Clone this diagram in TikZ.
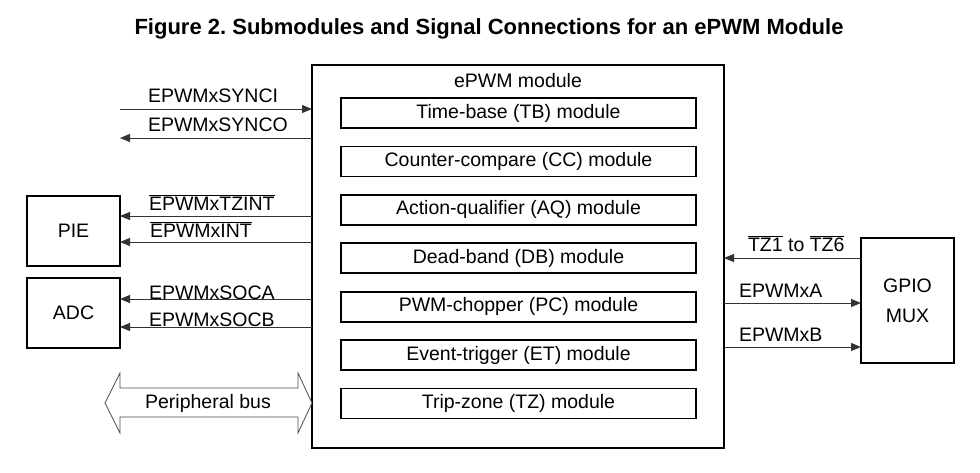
\documentclass[tikz,border=0pt]{standalone}
\usepackage{fontspec}
\setmainfont{Liberation Sans}
\usetikzlibrary{arrows.meta}
\frenchspacing
\newcommand{\ovl}[1]{$\overline{\hbox{#1}}$}
\begin{document}
\begin{tikzpicture}[x=1pt,y=-1pt,
  every node/.style={font=\fontsize{19.5}{30}\selectfont, inner sep=0pt, outer sep=0pt},
  bigbox/.style={draw=black, line width=2.4pt, align=center},
  modbox/.style={draw=black, line width=1.8pt, minimum width=355pt, minimum height=30pt},
  sig/.style={draw=black!80, line width=1pt},
  sigarrow/.style={sig, -{Triangle[length=10pt,width=8pt]}},
  lbl/.style={anchor=base west},
  bus/.style={draw=black!70, line width=0.8pt, fill=white}
]
\useasboundingbox (0,0) rectangle (980,472);
% title
\node[font=\fontsize{22}{26}\selectfont\bfseries] (title) at (489,29) {Figure 2. Submodules and Signal Connections for an ePWM Module};
% main box
\node[bigbox, minimum width=412pt, minimum height=383pt] (main) at (518,256.5) {};
\node[anchor=base] (mtitle) at (518,87) {ePWM module};
\node[modbox] (tb) at (518.5,113) {Time-base (TB) module};
\node[modbox] (cc) at (518.5,161.4) {Counter-compare (CC) module};
\node[modbox] (aq) at (518.5,209.8) {Action-qualifier (AQ) module};
\node[modbox] (db) at (518.5,258.2) {Dead-band (DB) module};
\node[modbox] (pc) at (518.5,306.6) {PWM-chopper (PC) module};
\node[modbox] (et) at (518.5,355) {Event-trigger (ET) module};
\node[modbox] (tz) at (518.5,403.4) {Trip-zone (TZ) module};
% side boxes
\node[bigbox, minimum width=93pt, minimum height=70pt] (pie) at (73.5,231) {PIE};
\node[bigbox, minimum width=93pt, minimum height=70pt] (adc) at (73.5,313) {ADC};
\node[bigbox, minimum width=93pt, minimum height=125pt] (gpio) at (907.5,300.5) {GPIO\\MUX};
% free ends
\coordinate (synci) at (120,109);
\coordinate (synco) at (120,138);
% left signals
\draw[sigarrow] (synci) -- (main.west |- synci);
\node[lbl] (lsynci) at (148,102) {EPWMxSYNCI};
\draw[sigarrow] (main.west |- synco) -- (synco);
\node[lbl] (lsynco) at (148,131.5) {EPWMxSYNCO};
\draw[sigarrow] (main.west |- 0,216) -- (pie.east |- 0,216);
\node[lbl] (ltzint) at (149,210) {\ovl{EPWMxTZINT}};
\draw[sigarrow] (main.west |- 0,242) -- (pie.east |- 0,242);
\node[lbl] (lint) at (150,237.5) {\ovl{EPWMxINT}};
\draw[sigarrow] (main.west |- 0,299) -- (adc.east |- 0,299);
\node[lbl] (lsoca) at (149,299) {EPWMxSOCA};
\draw[sigarrow] (main.west |- 0,327) -- (adc.east |- 0,327);
\node[lbl] (lsocb) at (149,326) {EPWMxSOCB};
% peripheral bus
\draw[bus] (105,403) -- (120,373) -- (120,388) -- (298,388) -- (298,373) -- (main.west |- 0,403)
  -- (298,433) -- (298,417) -- (120,417) -- (120,433) -- cycle;
\node (lbus) at (208,403) {Peripheral bus};
% right signals
\draw[sigarrow] (gpio.west |- 0,258) -- (main.east |- 0,258);
\node[lbl] (ltz) at (748,251.5) {\ovl{TZ1} to \ovl{TZ6}};
\draw[sigarrow] (main.east |- 0,303) -- (gpio.west |- 0,303);
\node[lbl] (la) at (739,297.5) {EPWMxA};
\draw[sigarrow] (main.east |- 0,347) -- (gpio.west |- 0,347);
\node[lbl] (lb) at (739,341.5) {EPWMxB};
\end{tikzpicture}
\end{document}
